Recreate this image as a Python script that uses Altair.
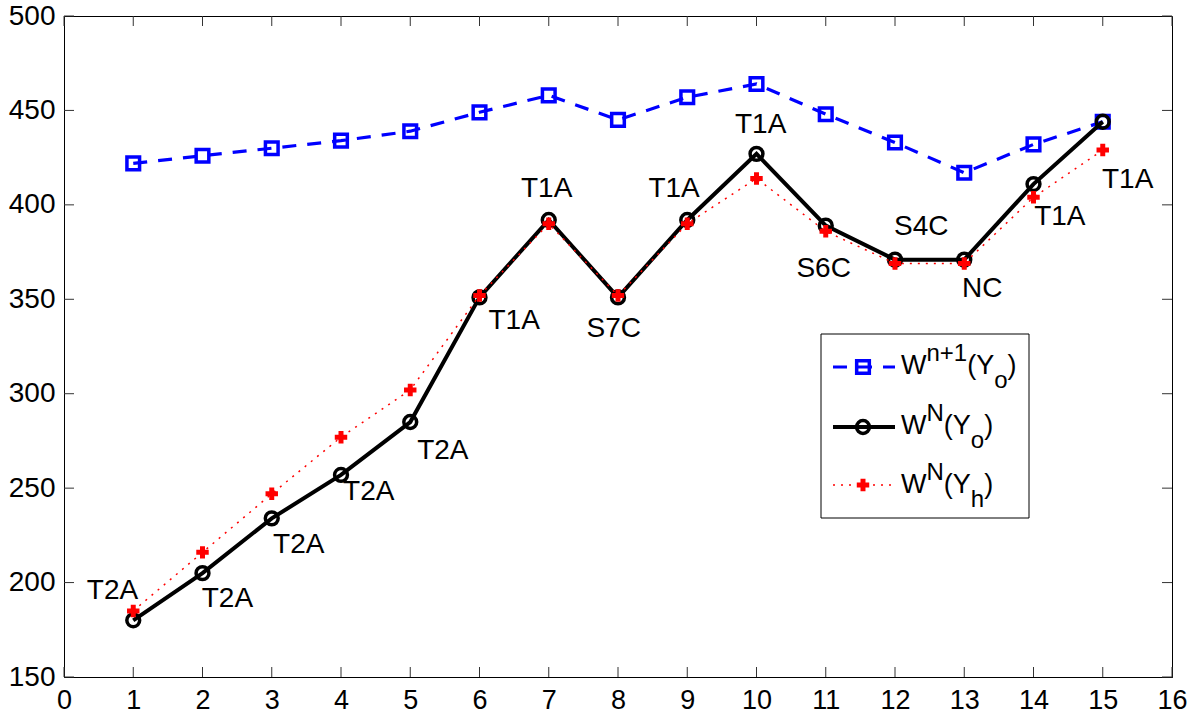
import altair as alt
import pandas as pd

# ---------------- data ----------------
x_vals = list(range(1, 16))
w_next_yo = [422, 426, 430, 434, 439, 449, 458, 445, 457, 464, 448, 433, 417, 432, 444]
w_N_yo = [180, 205, 234, 257, 285, 351, 392, 351, 392, 427, 389, 371, 371, 411, 444]
w_N_yh = [185, 216, 247, 277, 302, 352, 390, 352, 390, 414, 386, 369, 369, 404, 429]

labels = ["T2A", "T2A", "T2A", "T2A", "T2A", "T1A", "T1A", "S7C", "T1A", "T1A",
          "S6C", "S4C", "NC", "T1A", "T1A"]
# text anchors (data coordinates, baseline of the text)
label_x = [0.70, 2.36, 3.39, 4.40, 5.47, 6.50, 6.97, 7.94, 8.81, 10.06,
           10.97, 12.38, 13.26, 14.38, 15.36]
label_y = [191.4, 186.9, 215.9, 243.5, 265.6, 334.3, 403.9, 330.1, 403.9, 438.1,
           362.0, 384.1, 351.4, 389.4, 409.0]

x_ticks = list(range(0, 17))
y_ticks = list(range(150, 501, 50))

# ---------------- layout / style ----------------
W, H = 1108, 661
FONT = "Liberation Sans"
BLUE, RED = "#0000ff", "#ff0000"

df_blue = pd.DataFrame({"x": x_vals, "y": w_next_yo})
df_black = pd.DataFrame({"x": x_vals, "y": w_N_yo})
df_red = pd.DataFrame({"x": x_vals, "y": w_N_yh})
df_lab = pd.DataFrame({"x": label_x, "y": label_y, "t": labels})
df_xt = pd.DataFrame({"v": x_ticks})
df_yt = pd.DataFrame({"v": y_ticks})

xs = alt.Scale(domain=[0, 16], nice=False, zero=False)
ys = alt.Scale(domain=[150, 500], nice=False, zero=False)

X = alt.X("x:Q", scale=xs, axis=alt.Axis(
    values=x_ticks, title=None, ticks=False, grid=False, domainColor="black",
    domainWidth=1, labelFont=FONT, labelFontSize=27, labelColor="black",
    labelPadding=10, labelFlush=False, labelOverlap=False, format="d"))
Y = alt.Y("y:Q", scale=ys, axis=alt.Axis(
    values=y_ticks, title=None, ticks=False, grid=False, domainColor="black",
    domainWidth=1, labelFont=FONT, labelFontSize=28, labelColor="black",
    labelPadding=9, labelFlush=False, labelOverlap=False, format="d"))

LINE_BLUE = dict(color=BLUE, strokeWidth=3.2, strokeDash=[14, 11])
LINE_BLACK = dict(color="black", strokeWidth=4)
LINE_RED = dict(color=RED, strokeWidth=1.5, strokeDash=[2, 6])
PT_BLUE = dict(shape="square", size=160, filled=False, color=BLUE, strokeWidth=3.5, opacity=1)
PT_BLACK = dict(shape="circle", size=165, filled=False, color="black", strokeWidth=3.5, opacity=1)
PT_RED = dict(shape="cross", size=155, filled=True, color=RED, opacity=1)

xe = alt.X("x:Q", scale=xs)
ye = alt.Y("y:Q", scale=ys)

blue_line = alt.Chart(df_blue).mark_line(**LINE_BLUE).encode(x=X, y=Y)
blue_pts = alt.Chart(df_blue).mark_point(**PT_BLUE).encode(x=xe, y=ye)
black_line = alt.Chart(df_black).mark_line(**LINE_BLACK).encode(x=xe, y=ye)
black_pts = alt.Chart(df_black).mark_point(**PT_BLACK).encode(x=xe, y=ye)
red_line = alt.Chart(df_red).mark_line(**LINE_RED).encode(x=xe, y=ye)
red_pts = alt.Chart(df_red).mark_point(**PT_RED).encode(x=xe, y=ye)

text_labels = alt.Chart(df_lab).mark_text(
    font=FONT, fontSize=28, align="center", baseline="alphabetic", color="black"
).encode(x=xe, y=ye, text="t:N")

# inward ticks on all four sides
TL = 10
tick_style = dict(color="#333333", strokeWidth=1)
xt_bottom = alt.Chart(df_xt).mark_rule(**tick_style).encode(
    x=alt.X("v:Q", scale=xs), y=alt.value(H), y2=alt.value(H - TL))
xt_top = alt.Chart(df_xt).mark_rule(**tick_style).encode(
    x=alt.X("v:Q", scale=xs), y=alt.value(0), y2=alt.value(TL))
yt_left = alt.Chart(df_yt).mark_rule(**tick_style).encode(
    y=alt.Y("v:Q", scale=ys), x=alt.value(0), x2=alt.value(TL))
yt_right = alt.Chart(df_yt).mark_rule(**tick_style).encode(
    y=alt.Y("v:Q", scale=ys), x=alt.value(W), x2=alt.value(W - TL))

# ---------------- legend (drawn by hand) ----------------
one = pd.DataFrame({"a": [0]})
leg_box = alt.Chart(one).mark_rect(fill="white", stroke="black", strokeWidth=1).encode(
    x=alt.value(757), x2=alt.value(965), y=alt.value(318), y2=alt.value(502))

rows_line_y = [351, 411, 469]
rows_base_y = [358, 418, 477]
LX0, LX1, LXM = 769, 831, 799

legend_layers = [leg_box]
line_specs = [LINE_BLUE, LINE_BLACK, LINE_RED]
pt_specs = [PT_BLUE, PT_BLACK, PT_RED]
for i in range(3):
    ly = rows_line_y[i]
    legend_layers.append(alt.Chart(one).mark_rule(**line_specs[i]).encode(
        x=alt.value(LX0), x2=alt.value(LX1), y=alt.value(ly)))
    legend_layers.append(alt.Chart(one).mark_point(**pt_specs[i]).encode(
        x=alt.value(LXM), y=alt.value(ly)))

# glyph widths (em) of the Arial-metric font
EM = {"W": 0.944, "n": 0.556, "+": 0.584, "1": 0.556, "N": 0.722, "(": 0.333,
      "Y": 0.667, "o": 0.556, "h": 0.556, ")": 0.333}


def width(s, fs):
    return sum(EM[c] for c in s) * fs


MAIN, SMALL = 27, 24
legend_texts = [("n+1", "o"), ("N", "o"), ("N", "h")]
for i, (sup, sub) in enumerate(legend_texts):
    b = rows_base_y[i]
    x0 = 837
    pieces = [("W", MAIN, 0), (sup, SMALL, -13), ("(Y", MAIN, 0), (sub, SMALL, 14), (")", MAIN, 0)]
    for txt, fs, off in pieces:
        legend_layers.append(alt.Chart(one).mark_text(
            font=FONT, fontSize=fs, align="left", baseline="alphabetic", color="black"
        ).encode(x=alt.value(x0), y=alt.value(b + off), text=alt.value(txt)))
        x0 += width(txt, fs)

chart = alt.layer(
    blue_line, blue_pts, black_line, black_pts, red_line, red_pts, text_labels,
    xt_bottom, xt_top, yt_left, yt_right, *legend_layers
).properties(
    width=W, height=H,
    autosize=alt.AutoSizeParams(type="none"),
    padding={"left": 64, "top": 16, "right": 23, "bottom": 38},
    background="white",
).configure_view(stroke="black", strokeWidth=1)

chart.save("out.html", embed_options={"renderer": "svg", "actions": False})
